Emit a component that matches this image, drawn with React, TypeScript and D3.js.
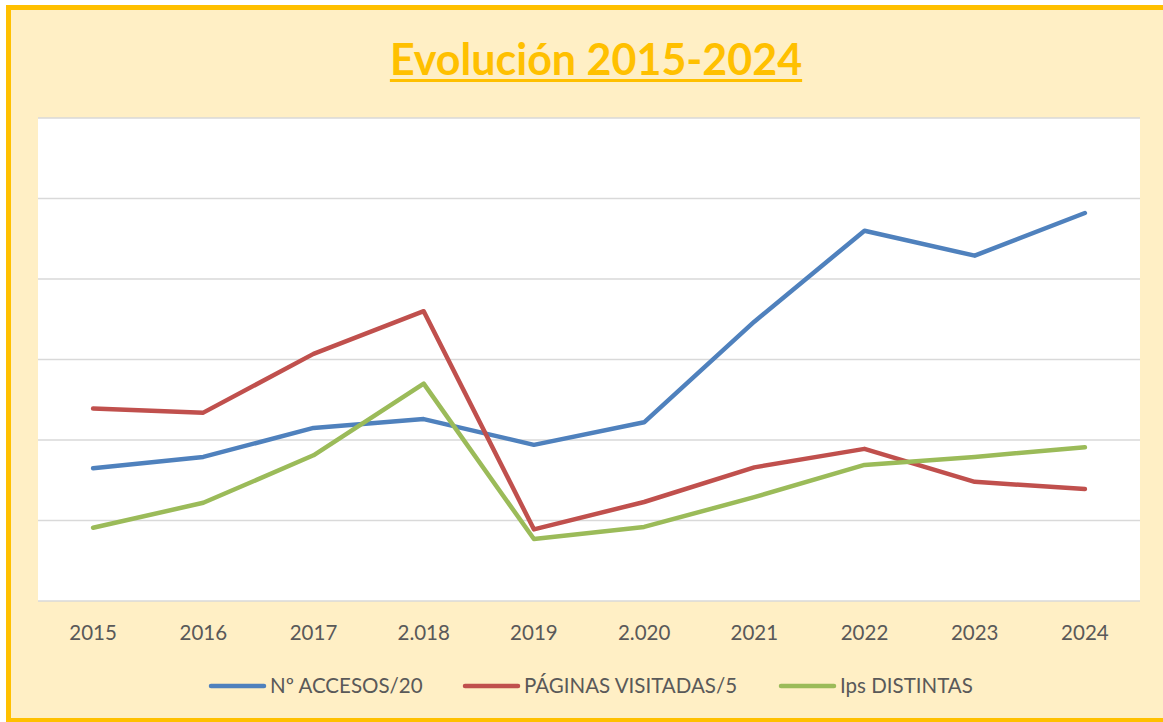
import { useRef, useEffect } from "react";
import * as d3 from "d3";

const years = ["2015", "2016", "2017", "2.018", "2019", "2.020", "2021", "2022", "2023", "2024"];
const accesos = [1.65, 1.79, 2.15, 2.26, 1.94, 2.22, 3.47, 4.6, 4.29, 4.82];
const paginas = [2.39, 2.34, 3.07, 3.6, 0.89, 1.23, 1.66, 1.89, 1.48, 1.39];
const ips = [0.91, 1.22, 1.81, 2.7, 0.77, 0.92, 1.29, 1.69, 1.79, 1.91];
const seriesNames = ["Nº ACCESOS/20", "PÁGINAS VISITADAS/5", "Ips DISTINTAS"];
const seriesColors = ["#4F81BD", "#C0504D", "#9BBB59"];
const gridTicks = [0, 1, 2, 3, 4, 5, 6];

const App = () => {
    const ref = useRef<SVGSVGElement>(null);

    useEffect(() => {
        if (!ref.current) return;
        const width = 1163;
        const height = 722;
        const plot = { left: 38, right: 1140, top: 118, bottom: 601 };
        const font = "Lato, 'Open Sans', sans-serif";

        const svg = d3.select(ref.current);
        svg.selectAll("*").remove();
        svg.attr("width", width).attr("height", height);

        // chart area background
        svg.append("rect")
            .attr("x", 0).attr("y", 0)
            .attr("width", width).attr("height", height)
            .attr("fill", "#ffffff");
        svg.append("rect")
            .attr("x", 8.5).attr("y", 7.5)
            .attr("width", width - 8.5).attr("height", 713)
            .attr("fill", "#FFEFC5");

        // gold border: top, left, bottom (the right edge is cut off)
        svg.append("path")
            .attr("d", `M${width},7.5 H8.5 V720.5 H${width}`)
            .attr("fill", "none")
            .attr("stroke", "#FFC000")
            .attr("stroke-width", 5);

        // title
        const title = svg.append("text")
            .attr("x", 596).attr("y", 75)
            .attr("text-anchor", "middle")
            .attr("font-family", font)
            .attr("font-weight", "bold")
            .attr("font-size", 43)
            .attr("fill", "#FFC000")
            .text("Evolución 2015-2024");
        const tb = (title.node() as SVGTextElement).getBBox();
        svg.append("rect")
            .attr("x", tb.x).attr("y", 79)
            .attr("width", tb.width).attr("height", 3)
            .attr("fill", "#FFC000");

        // plot area
        svg.append("rect")
            .attr("x", plot.left).attr("y", plot.top)
            .attr("width", plot.right - plot.left).attr("height", plot.bottom - plot.top)
            .attr("fill", "#ffffff");

        const x = d3.scaleBand().domain(years).range([plot.left, plot.right]);
        const y = d3.scaleLinear().domain([0, 6]).range([plot.bottom, plot.top]);

        svg.append("g")
            .selectAll("line")
            .data(gridTicks)
            .join("line")
            .attr("x1", plot.left).attr("x2", plot.right)
            .attr("y1", (d) => y(d)).attr("y2", (d) => y(d))
            .attr("stroke", "#D9D9D9")
            .attr("stroke-width", 1.5);

        // x axis labels
        const xAxis = svg.append("g")
            .attr("transform", `translate(0,${plot.bottom})`)
            .call(d3.axisBottom(x).tickSize(0).tickPadding(24));
        xAxis.select(".domain").remove();
        xAxis.selectAll("text")
            .attr("font-family", font)
            .attr("font-size", 20.5)
            .attr("fill", "#595959");

        // lines
        const data = [accesos, paginas, ips];
        const line = d3.line<number>()
            .x((_, i) => (x(years[i]) as number) + x.bandwidth() / 2)
            .y((d) => y(d));
        data.forEach((vals, i) => {
            svg.append("path")
                .datum(vals)
                .attr("d", line)
                .attr("fill", "none")
                .attr("stroke", seriesColors[i])
                .attr("stroke-width", 4.5)
                .attr("stroke-linejoin", "round")
                .attr("stroke-linecap", "round");
        });

        // legend
        const legendX = [211, 465, 781];
        const legendY = 686;
        seriesNames.forEach((name, i) => {
            const g = svg.append("g").attr("transform", `translate(${legendX[i]},${legendY})`);
            g.append("line")
                .attr("x1", 0).attr("x2", 53)
                .attr("stroke", seriesColors[i])
                .attr("stroke-width", 4.5)
                .attr("stroke-linecap", "round");
            g.append("text")
                .attr("x", 59).attr("dy", "0.35em")
                .attr("font-family", font)
                .attr("font-size", 20.5)
                .attr("fill", "#595959")
                .text(name);
        });
    });

    return (
        <svg ref={ref} style={{ position: "absolute", left: 0, top: 0, display: "block" }}></svg>
    );
};

export default App;
